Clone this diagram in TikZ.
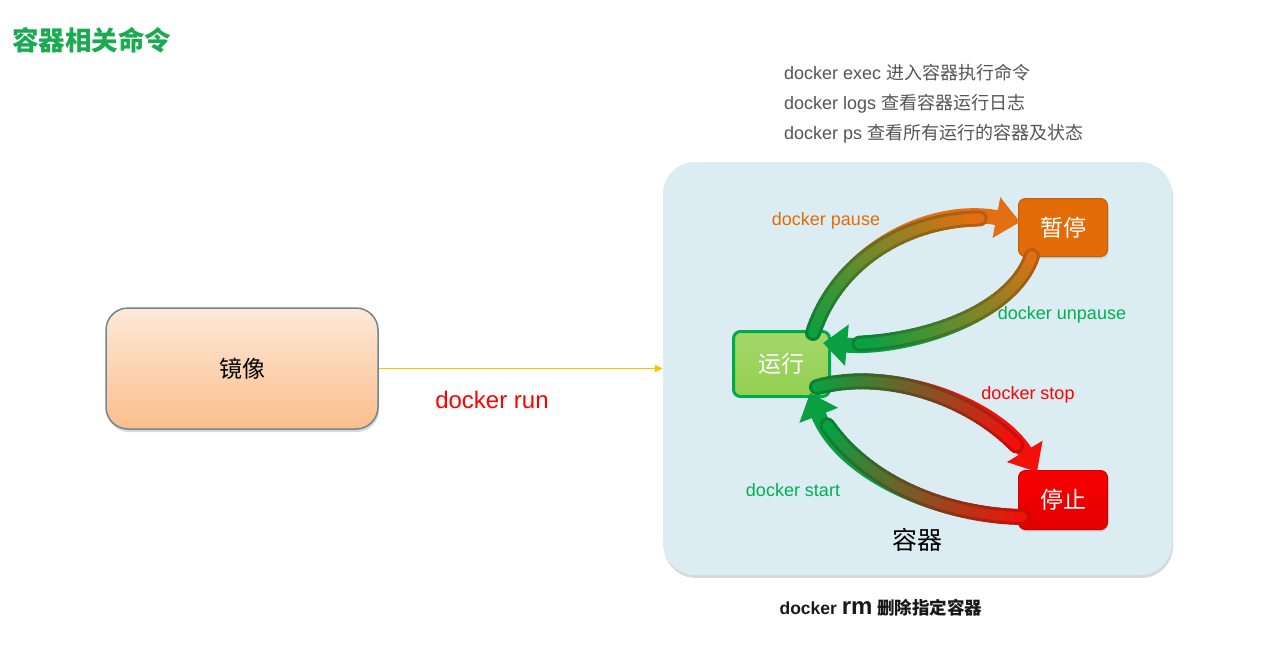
\documentclass[tikz,border=0pt]{standalone}
\usepackage{fontspec}
\setmainfont{Liberation Sans}
\newfontfamily\cjk{Noto Sans CJK SC}
\usetikzlibrary{arrows.meta,shadows}
\definecolor{titlegreen}{RGB}{26,170,82}
\definecolor{cmdgray}{RGB}{85,85,85}
\definecolor{contblue}{RGB}{219,237,243}
\definecolor{imgtop}{RGB}{253,233,217}
\definecolor{imgbot}{RGB}{251,190,140}
\definecolor{imgborder}{RGB}{110,135,145}
\definecolor{runfill}{RGB}{146,208,80}
\definecolor{runborder}{RGB}{0,170,75}
\definecolor{pausefill}{RGB}{227,108,9}
\definecolor{stopfill}{RGB}{250,0,0}
\definecolor{lblorange}{RGB}{227,108,9}
\definecolor{lblgreen}{RGB}{0,176,80}
\definecolor{lblred}{RGB}{255,0,0}
\definecolor{runyellow}{RGB}{255,192,0}
\definecolor{ag}{RGB}{10,160,65}
\definecolor{ao}{RGB}{226,112,18}
\definecolor{ar}{RGB}{245,15,10}
\newcommand\gradarrow[6]{%
  \draw[line width=15pt, color=#6, -{Triangle[width=40pt,length=24pt]}] #1 .. controls #2 and #3 .. #4;
  \foreach \i in {0,...,39}{%
    \pgfmathsetmacro\ta{\i/40*0.85}%
    \pgfmathsetmacro\tb{(\i+1)/40*0.85}%
    \pgfmathtruncatemacro\p{100-\i*100/39}%
    \path #1 .. controls #2 and #3 .. #4 coordinate[pos=\ta] (ga) coordinate[pos=\tb] (gb);
    \draw[line width=16pt, line cap=round, color=#5!\p!#6!82!black] (ga) -- (gb);
  }
  \foreach \i in {0,...,39}{%
    \pgfmathsetmacro\ta{\i/40*0.85}%
    \pgfmathsetmacro\tb{(\i+1)/40*0.85}%
    \pgfmathtruncatemacro\p{100-\i*100/39}%
    \path #1 .. controls #2 and #3 .. #4 coordinate[pos=\ta] (ga) coordinate[pos=\tb] (gb);
    \draw[line width=10pt, line cap=round, color=#5!\p!#6] (ga) -- (gb);
  }
}
\tikzset{
  cmd/.style={anchor=west, text=cmdgray, font=\fontsize{18}{20}\selectfont, inner sep=0pt},
  lbl/.style={font=\fontsize{18}{20}\selectfont, inner sep=0pt},
  statebox/.style={rounded corners=7pt, inner sep=0pt, text=white, font=\cjk\fontsize{23}{25}\selectfont},
  yarrow/.style={draw=runyellow, line width=1.3pt, -{Triangle[width=7pt,length=8pt]}},
}
\begin{document}
\begin{tikzpicture}[x=1pt,y=-1pt]
\useasboundingbox[fill=white] (0,0) rectangle (1267,657);
% title
\node[anchor=west, inner sep=0pt, text=titlegreen, font=\cjk\bfseries\fontsize{26.5}{28}\selectfont] (title) at (12,40) {容器相关命令};
% commands
\node[cmd] (c1) at (784,73) {docker exec {\cjk 进入容器执行命令}};
\node[cmd] (c2) at (784,104) {docker logs {\cjk 查看容器运行日志}};
\node[cmd] (c3) at (784,134) {docker ps {\cjk 查看所有运行的容器及状态}};
% container
\node[fill=contblue, rounded corners=32pt, minimum width=509pt, minimum height=413pt, inner sep=0pt,
      drop shadow={opacity=0.3, shadow xshift=1pt, shadow yshift=-3pt}] (cont) at (917.5,368.5) {};
% image
\node[top color=imgtop, bottom color=imgbot, draw=imgborder, line width=1.5pt, rounded corners=22pt,
      minimum width=272pt, minimum height=121pt, inner sep=0pt,
      drop shadow={opacity=0.3, shadow xshift=1pt, shadow yshift=-3pt},
      font=\cjk\fontsize{23}{25}\selectfont] (img) at (242,368.5) {镜像};
\draw[yarrow] (img) -- (cont);
\node[lbl, text=lblred, font=\fontsize{24}{26}\selectfont] (runlbl) at (492,400) {docker run};
% states
\node[statebox, top color=runfill!85!white, bottom color=runfill, draw=runborder, line width=3pt,
      minimum width=96pt, minimum height=65pt] (run) at (781.5,364) {运行};
\node[statebox, fill=pausefill, draw=pausefill!85!black, line width=1pt,
      minimum width=89pt, minimum height=58pt,
      drop shadow={opacity=0.25, shadow xshift=1pt, shadow yshift=-2pt}] (pause) at (1063,227.5) {暂停};
\node[statebox, top color=stopfill, bottom color=stopfill!90!black, draw=stopfill!85!black, line width=1pt,
      minimum width=89pt, minimum height=59pt,
      drop shadow={opacity=0.25, shadow xshift=1pt, shadow yshift=-2pt}] (stop) at (1063,500) {停止};
% arrow end points
\coordinate (pA) at (813,333);   \coordinate (pD) at (1020,222);
\coordinate (uA) at (1032,256);  \coordinate (uD) at (823,343);
\coordinate (sA) at (817,387);   \coordinate (sD) at (1037,472);
\coordinate (tA) at (1022,517);  \coordinate (tD) at (810,393);
\gradarrow{(pA)}{(840,250)}{(930,205)}{(pD)}{ag}{ao}
\gradarrow{(uA)}{(1010,320)}{(900,350)}{(uD)}{ao}{ag}
\gradarrow{(sA)}{(900,365)}{(1000,410)}{(sD)}{ag}{ar}
\gradarrow{(tA)}{(930,515)}{(840,470)}{(tD)}{ar}{ag}
% labels
\node[lbl, text=lblorange] (lp) at (826,221) {docker pause};
\node[lbl, text=lblgreen] (lu) at (1062,315) {docker unpause};
\node[lbl, text=lblred] (ls) at (1028,395) {docker stop};
\node[lbl, text=lblgreen] (lt) at (793,490) {docker start};
\node[inner sep=0pt, font=\cjk\fontsize{25}{28}\selectfont] (contlbl) at (917,540) {容器};
% rm
\node[inner sep=0pt, text=black!90, font=\bfseries\fontsize{17.5}{20}\selectfont] (rm) at (881,608)
  {docker {\fontsize{24}{24}\selectfont rm} {\cjk 删除指定容器}};
\end{tikzpicture}
\end{document}
